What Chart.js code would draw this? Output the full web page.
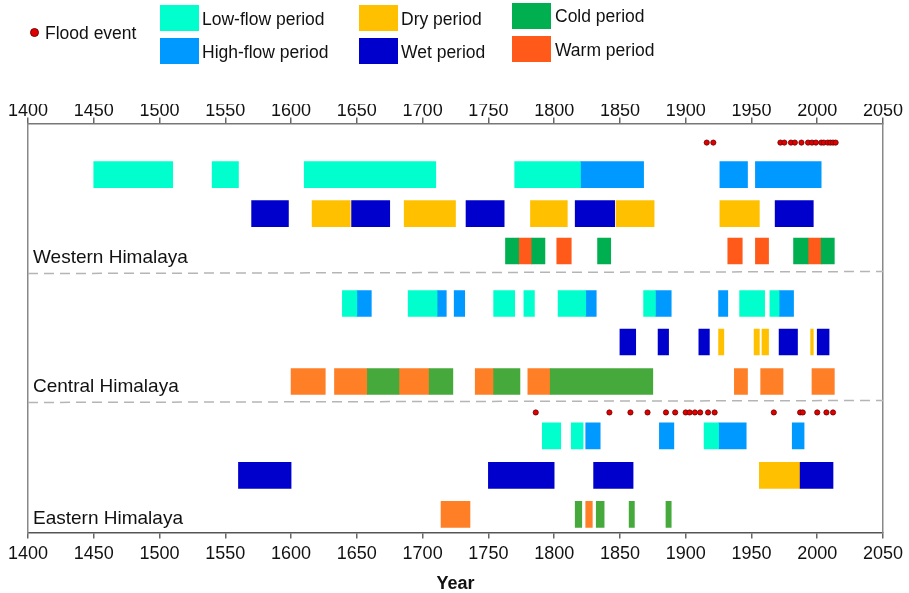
<!DOCTYPE html>
<html>
<head>
<meta charset="utf-8">
<script src="https://cdn.jsdelivr.net/npm/chart.js@4.4.0/dist/chart.umd.min.js"></script>
<style>
    html, body { margin: 0; padding: 0; background: #fff; }
    #wrap { position: relative; width: 909px; height: 593px; font-family: 'Liberation Sans', Arial, sans-serif; color: #111; }
    #chartBox { position: absolute; left: 0; top: 0; width: 909px; height: 593px; }
    .lg { position: absolute; font-size: 17.5px; line-height: 20px; white-space: nowrap; }
    .sw { position: absolute; width: 39px; height: 26px; }
    .dot { position: absolute; width: 7px; height: 7px; border-radius: 50%; background: #e00000; border: 1px solid #700; }
</style>
</head>
<body>
<div id="wrap">
    <div id="chartBox"><canvas id="chart"></canvas></div>

    <div class="dot" style="left:30px;top:28px"></div>
    <div class="lg" style="left:45px;top:23px">Flood event</div>

    <div class="sw" style="left:160px;top:5px;background:#00FFCC"></div>
    <div class="lg" style="left:202px;top:9px">Low-flow period</div>
    <div class="sw" style="left:160px;top:38px;background:#0099FF"></div>
    <div class="lg" style="left:202px;top:42px">High-flow period</div>

    <div class="sw" style="left:359px;top:5px;background:#FFC000"></div>
    <div class="lg" style="left:401px;top:9px">Dry period</div>
    <div class="sw" style="left:359px;top:38px;background:#0000CC"></div>
    <div class="lg" style="left:401px;top:42px">Wet period</div>

    <div class="sw" style="left:512px;top:3px;background:#00B050"></div>
    <div class="lg" style="left:555px;top:6px">Cold period</div>
    <div class="sw" style="left:512px;top:36px;background:#FF5A1A"></div>
    <div class="lg" style="left:555px;top:40px">Warm period</div>
</div>

<script>
    /* ─────────────────────────────────────────────
       Data (years)
    ───────────────────────────────────────────── */
    const X_TICKS = [1400, 2050];
    const REGIONS = ['Western Himalaya', 'Central Himalaya', 'Eastern Himalaya'];

    // Western Himalaya
    const W_FLOOD = [1916, 1921, 1972, 1975, 1980, 1983, 1988, 1993, 1996, 1999, 2003, 2005, 2008, 2010, 2012, 2014];
    const W_LOW = [[1450, 1510], [1540, 1560], [1610, 1710], [1770, 1820]];
    const W_HIGH = [[1820, 1868], [1926, 1947], [1953, 2003]];
    const W_WET = [[1570, 1598], [1646, 1675], [1733, 1762], [1816, 1846], [1968, 1997]];
    const W_DRY = [[1616, 1645], [1686, 1725], [1782, 1810], [1847, 1876], [1926, 1956]];
    const W_COLD = [[1763, 1773], [1783, 1793], [1833, 1843], [1982, 1993], [2003, 2013]];
    const W_WARM = [[1773, 1783], [1802, 1813], [1932, 1943], [1953, 1963], [1993, 2003]];

    // Central Himalaya
    const C_LOW = [[1639, 1650], [1689, 1711], [1754, 1770], [1777, 1785], [1803, 1824], [1868, 1877], [1941, 1960], [1964, 1971]];
    const C_HIGH = [[1650, 1661], [1711, 1718], [1724, 1732], [1824, 1832], [1877, 1889], [1925, 1932], [1971, 1982]];
    const C_WET = [[1850, 1862], [1879, 1887], [1910, 1918], [1971, 1985], [2000, 2009]];
    const C_DRY = [[1925, 1929], [1952, 1956], [1958, 1963], [1995, 1997]];
    const C_COLD = [[1658, 1682], [1705, 1723], [1754, 1774], [1797, 1875]];
    const C_WARM = [[1600, 1626], [1633, 1658], [1682, 1705], [1740, 1754], [1780, 1797], [1937, 1947], [1957, 1974], [1996, 2013]];

    // Eastern Himalaya
    const E_FLOOD = [1786, 1842, 1858, 1871, 1885, 1892, 1900, 1903, 1907, 1911, 1917, 1922, 1967, 1987, 1989, 2000, 2007, 2012];
    const E_LOW = [[1791, 1805], [1813, 1822], [1914, 1925]];
    const E_HIGH = [[1824, 1835], [1880, 1891], [1925, 1946], [1981, 1990]];
    const E_WET = [[1560, 1600], [1750, 1800], [1830, 1860], [1987, 2012]];
    const E_DRY = [[1956, 1987]];
    const E_COLD = [[1816, 1821], [1832, 1838], [1857, 1861], [1885, 1889]];
    const E_WARM = [[1714, 1736], [1824, 1829]];

    // track levels on the hidden vertical scale (0 = top)
    const LEVEL_W = { flood: 1.9, flow: 5.1, moist: 9.0, temp: 12.75 };
    const LEVEL_C = { flow: 18.0, moist: 21.85, temp: 25.8 };
    const LEVEL_E = { flood: 28.9, flow: 31.25, moist: 35.2, temp: 39.1 };
    const LABEL_LEVEL = [13.4, 26.3, 39.5];
    const SEPARATORS = [[15.0, 14.8], [27.9, 27.7]];

    /* ─────────────────────────────────────────────
       Styles
    ───────────────────────────────────────────── */
    const FONT = "'Liberation Sans', Arial, sans-serif";
    const C_LOWFLOW = '#00FFCC';
    const C_HIGHFLOW = '#0099FF';
    const C_DRYP = '#FFC000';
    const C_WETP = '#0000CC';
    const COLD_W = '#00B050', WARM_W = '#FF5A1A';
    const COLD_CE = '#46A93C', WARM_CE = '#FF7F27';

    /* ─────────────────────────────────────────────
       Helpers
    ───────────────────────────────────────────── */
    const bars = (ranges, level) => ranges.map(([a, b]) => ({ x: [a, b], y: level }));

    function barSet(ranges, level, color) {
        return {
            type: 'bar',
            indexAxis: 'y',
            data: bars(ranges, level),
            backgroundColor: color,
            borderWidth: 0,
            barThickness: 26,
            grouped: false,
            xAxisID: 'x',
            yAxisID: 'y'
        };
    }

    function floodSet(years, level) {
        return {
            type: 'scatter',
            data: years.map(v => ({ x: v, y: level })),
            pointRadius: 2.6,
            pointBackgroundColor: '#e00000',
            pointBorderColor: '#6a0000',
            pointBorderWidth: 0.8,
            xAxisID: 'x',
            yAxisID: 'y'
        };
    }

    function sepSet([l, r]) {
        return {
            type: 'line',
            data: [{ x: X_TICKS[0], y: l }, { x: X_TICKS[1], y: r }],
            borderColor: '#b5b5b5',
            borderWidth: 1.5,
            borderDash: [10, 6],
            pointRadius: 0,
            xAxisID: 'x',
            yAxisID: 'y'
        };
    }

    const regionLabels = {
        id: 'regionLabels',
        afterDatasetsDraw(chart) {
            const { ctx, chartArea, scales: { y } } = chart;
            ctx.save();
            ctx.font = '19px ' + FONT;
            ctx.fillStyle = '#111';
            ctx.textBaseline = 'middle';
            REGIONS.forEach((name, i) => ctx.fillText(name, chartArea.left + 5, y.getPixelForValue(LABEL_LEVEL[i])));
            ctx.restore();
        }
    };

    const xAxis = (position, padding) => ({
        type: 'linear',
        axis: 'x',
        position,
        offset: false,
        min: X_TICKS[0],
        max: X_TICKS[1],
        ticks: {
            stepSize: 50,
            autoSkip: false,
            maxRotation: 0,
            padding,
            color: '#111',
            font: { family: FONT, size: 18 },
            callback: v => String(v)
        },
        grid: { offset: false, drawOnChartArea: false, drawTicks: true, tickLength: 6, color: '#666', lineWidth: 1.5 },
        border: { display: true, color: position === 'top' ? '#777' : '#555', width: 1.5 }
    });

    const frameAxis = position => ({
        type: 'linear',
        axis: 'y',
        position,
        offset: false,
        beginAtZero: false,
        min: 0,
        max: 40.9,
        reverse: true,
        ticks: { display: false },
        grid: { display: false, drawTicks: false, tickLength: 0, offset: false },
        border: { display: true, color: '#888', width: 1.5 }
    });

    /* ─────────────────────────────────────────────
       Chart
    ───────────────────────────────────────────── */
    new Chart(document.getElementById('chart'), {
        type: 'bar',
        data: {
            datasets: [
                floodSet(W_FLOOD, LEVEL_W.flood),
                barSet(W_LOW, LEVEL_W.flow, C_LOWFLOW),
                barSet(W_HIGH, LEVEL_W.flow, C_HIGHFLOW),
                barSet(W_WET, LEVEL_W.moist, C_WETP),
                barSet(W_DRY, LEVEL_W.moist, C_DRYP),
                barSet(W_COLD, LEVEL_W.temp, COLD_W),
                barSet(W_WARM, LEVEL_W.temp, WARM_W),

                barSet(C_LOW, LEVEL_C.flow, C_LOWFLOW),
                barSet(C_HIGH, LEVEL_C.flow, C_HIGHFLOW),
                barSet(C_WET, LEVEL_C.moist, C_WETP),
                barSet(C_DRY, LEVEL_C.moist, C_DRYP),
                barSet(C_COLD, LEVEL_C.temp, COLD_CE),
                barSet(C_WARM, LEVEL_C.temp, WARM_CE),

                floodSet(E_FLOOD, LEVEL_E.flood),
                barSet(E_LOW, LEVEL_E.flow, C_LOWFLOW),
                barSet(E_HIGH, LEVEL_E.flow, C_HIGHFLOW),
                barSet(E_WET, LEVEL_E.moist, C_WETP),
                barSet(E_DRY, LEVEL_E.moist, C_DRYP),
                barSet(E_COLD, LEVEL_E.temp, COLD_CE),
                barSet(E_WARM, LEVEL_E.temp, WARM_CE),

                ...SEPARATORS.map(sepSet)
            ]
        },
        options: {
            responsive: true,
            maintainAspectRatio: false,
            animation: false,
            events: [],
            layout: { padding: { left: 28, right: 26, top: 104, bottom: 0 } },
            plugins: { legend: { display: false }, tooltip: { enabled: false } },
            scales: {
                x: {
                    ...xAxis('bottom', 5),
                    title: {
                        display: true,
                        text: 'Year',
                        color: '#111',
                        font: { family: FONT, size: 18, weight: 'bold', lineHeight: 1.0 },
                        padding: { top: 5, bottom: 0 }
                    }
                },
                xTop: xAxis('top', -4),
                y: frameAxis('left'),
                yRight: frameAxis('right')
            }
        },
        plugins: [regionLabels]
    });
</script>
</body>
</html>
